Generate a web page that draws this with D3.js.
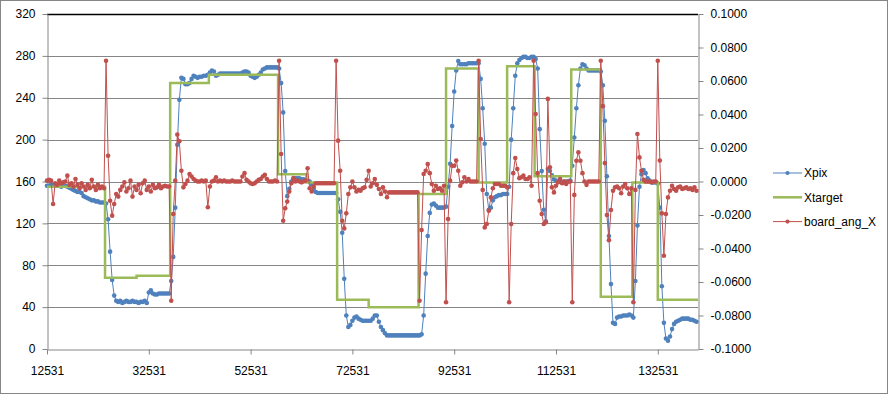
<!DOCTYPE html>
<meta charset="utf-8">
<style>
body { margin: 0; background: #fff; }
svg { display: block; font-family: "Liberation Sans", Arial, sans-serif; }
.axis text { font-size: 12px; fill: #000; }
.axis path, .axis line { stroke: #868686; }
</style>
<body>
<svg width="888" height="394"></svg>
<script src="https://d3js.org/d3.v7.min.js"></script>
<script>

// ---- data ----
var xStart = 12531, xStep = 400, xEnd = 140431;
var xTicks = [12531, 32531, 52531, 72531, 92531, 112531, 132531];
var leftTicks = [0, 40, 80, 120, 160, 200, 240, 280, 320];
var rightTicks = [-0.1, -0.08, -0.06, -0.04, -0.02, 0, 0.02, 0.04, 0.06, 0.08, 0.1];

// Xpix, one value per sample
var xpix = [
 156,156,157,156,157,156,156,155,156,156,
 155,154,153,152,151,150,150,149,146,145,
 144,143,142,142,141,141,140,140,140,139,
 124,93,66,51,46,45,46,44,45,46,
 45,45,46,45,45,44,45,45,46,44,
 54,56,53,52,52,53,53,53,53,53,
 53,65,88,135,195,238,259,258,253,253,
 254,258,261,260,259,260,260,261,261,262,
 264,266,265,261,262,263,263,263,263,263,
 263,263,263,263,263,263,264,265,265,264,
 261,260,259,260,262,264,267,268,269,269,
 269,269,269,269,268,254,226,170,146,153,
 160,162,163,163,163,162,162,161,161,160,
 157,153,150,149,149,149,149,149,149,149,
 149,149,149,143,131,111,67,32,21,23,
 27,30,31,29,28,27,27,27,27,27,
 29,32,32,26,21,18,15,13,13,13,
 13,13,13,13,13,13,13,13,13,13,
 13,13,13,13,14,32,72,108,130,138,
 139,137,135,135,135,135,136,155,177,213,
 246,266,275,272,272,272,272,273,273,273,
 273,273,273,258,230,196,148,133,135,142,
 145,146,147,147,148,148,148,155,200,230,
 261,273,276,278,279,279,278,278,279,279,
 277,268,210,170,133,122,172,170,166,162,
 161,160,160,159,160,160,160,161,175,202,
 230,252,268,272,271,268,266,266,266,266,
 266,266,265,252,218,165,108,62,25,24,
 30,31,31,32,32,32,33,32,30,65,
 118,155,167,171,168,163,161,159,159,159,
 158,135,60,25,10,8,12,19,24,26,
 27,28,29,29,29,29,28,28,27,26
];

// board_ang_X, same samples, secondary axis
var boardAng = [
 0.0005,0.001,0.0005,-0.0134,-0.001,-0.002,0.0005,-0.001,-0.0005,0,
 0.0035,-0.002,-0.001,-0.003,0.0015,-0.002,-0.004,-0.001,-0.003,-0.005,
 -0.002,-0.004,0.001,-0.003,-0.005,-0.002,-0.004,-0.003,-0.004,0.0721,
 0.0154,-0.0115,-0.0204,-0.0134,-0.0075,-0.009,-0.005,-0.003,-0.0005,-0.006,
 -0.004,0.0005,-0.009,-0.003,-0.005,-0.002,-0.007,-0.001,0.0005,-0.005,
 -0.003,-0.006,-0.002,-0.004,-0.0035,-0.002,-0.004,-0.003,-0.0025,-0.003,
 -0.003,-0.0712,-0.0194,0.0005,0.028,0.024,0.0064,-0.0035,-0.0015,0.0005,
 0.0045,0.003,0.0015,0.0005,0,0,0.0005,0,0.0005,-0.0154,
 -0.003,0,0.0005,0.0025,0,0.0005,0,0.0005,0,0,
 0,0.0005,0,0,0,0,0.003,0.005,0.001,0,
 -0.001,-0.0015,-0.001,0,0.001,0.0015,0.003,0.004,0.0015,0,
 0,0,0.0005,0,0.0721,0.0164,-0.0234,-0.016,-0.012,-0.006,
 -0.001,0.002,0,0.0005,0,-0.0005,0,0.0005,0.0079,-0.004,
 -0.006,-0.003,-0.001,-0.001,-0.001,-0.001,-0.001,-0.001,-0.001,-0.001,
 -0.001,-0.001,0.0721,0.0244,0.0064,-0.0234,-0.028,-0.019,-0.0075,-0.0035,
 0,-0.0035,-0.006,-0.005,-0.0055,-0.004,-0.0035,0.001,0.0064,-0.003,
 -0.001,0.0015,-0.002,-0.0045,-0.0075,-0.0035,-0.006,-0.0094,-0.0065,-0.0065,
 -0.0065,-0.0065,-0.0065,-0.0065,-0.0065,-0.0065,-0.0065,-0.0065,-0.0065,-0.0065,
 -0.0065,-0.0065,-0.0065,-0.0712,-0.029,0.0045,0.0064,0.0104,0.005,-0.0015,
 -0.0055,-0.0025,-0.0045,-0.004,-0.0055,-0.0025,-0.0721,-0.0224,0.0005,0.0094,
 0.0094,0.0125,0.0064,-0.0025,-0.0005,0.0025,0,0.0015,0,0,
 0,0,0.0721,0.0254,-0.005,-0.0274,-0.0254,-0.0174,-0.0095,-0.004,
 -0.0015,-0.0015,-0.0015,-0.0025,-0.0025,-0.0025,-0.0035,-0.0721,-0.0254,0.005,
 0.014,0.0075,0.002,0.0025,0.0035,0.0015,0.0015,0.0025,-0.0025,0.0721,
 0.0403,0.005,-0.0115,-0.0194,-0.0254,-0.0244,0.0493,0.0085,-0.0035,-0.0065,
 -0.0025,-0.0005,0.0015,-0.001,0,-0.0015,0,0,-0.0721,-0.008,
 0.0124,0.0174,0.0124,0.005,0,-0.002,0,0,0,0,
 0,0,0.0721,0.045,0.011,-0.02,-0.035,-0.017,-0.0055,-0.0035,
 -0.003,-0.004,-0.007,-0.003,-0.0015,-0.004,-0.0075,-0.004,-0.0721,-0.005,
 0.0284,0.0144,0.0064,0.001,0,0,0,-0.0005,0,0,
 0.0721,0.0125,-0.019,-0.0443,-0.0194,-0.0095,-0.0055,-0.0025,-0.0045,-0.0055,
 -0.0035,-0.003,-0.0045,-0.004,-0.0035,-0.0045,-0.004,-0.005,-0.0035,-0.0055
];

// Xtarget is a step signal: where it changes, and to what
var targetAt  = [12531, 23931, 30131, 36731, 44331, 57931, 63531, 69531, 75731, 85531,
                 90931, 97331, 102931, 108331, 115531, 121331, 127531, 132531, 140431];
var targetVal = [155, 68, 70, 254, 262, 167, 159, 47, 40, 148,
                 268, 159, 270, 165, 267, 50, 159, 47, 47];

var seriesNames = ["Xpix", "Xtarget", "board_ang_X"];
var colors = ["#4F81BD", "#9BBB59", "#C0504D"];

// ---- chart ----
var svg = d3.select("svg");
var W = +svg.attr("width"), H = +svg.attr("height");

svg.append("rect").attr("x", 0.5).attr("y", 0.5).attr("width", W - 1).attr("height", H - 1)
   .attr("fill", "#fff").attr("stroke", "#868686");

var plotL = 47, plotR = 698, plotT = 14, plotB = 349;

var x = d3.scaleLinear().domain([xStart, xEnd]).range([plotL, plotR]);
var yL = d3.scaleLinear().domain([0, 320]).range([plotB, plotT]);
var yR = d3.scaleLinear().domain([-0.1, 0.1]).range([plotB, plotT]);

// gridlines
svg.append("g").selectAll("line")
  .data(leftTicks.filter(function(d) { return d > 0; }))
  .enter().append("line")
    .attr("x1", plotL).attr("x2", plotR)
    .attr("y1", function(d) { return Math.round(yL(d)) + 0.5; })
    .attr("y2", function(d) { return Math.round(yL(d)) + 0.5; })
    .attr("stroke", function(d) { return d == 320 ? "#000" : "#868686"; })
    .attr("stroke-width", function(d) { return d == 320 ? 1.5 : 1; });

svg.append("g").attr("class", "axis")
  .attr("transform", "translate(" + (plotL + 0.5) + ",0)")
  .call(d3.axisLeft(yL).tickValues(leftTicks).tickSize(5).tickSizeOuter(0).tickPadding(7));

svg.append("g").attr("class", "axis")
  .attr("transform", "translate(" + (plotR + 0.5) + ",0)")
  .call(d3.axisRight(yR).tickValues(rightTicks).tickSize(5).tickSizeOuter(0).tickPadding(7)
        .tickFormat(function(d) { return d.toFixed(4); }));

svg.append("g").attr("class", "axis")
  .attr("transform", "translate(0," + (plotB + 0.5) + ")")
  .call(d3.axisBottom(x).tickValues(xTicks).tickSize(5).tickSizeOuter(0).tickPadding(12)
        .tickFormat(d3.format("d")));

svg.selectAll(".axis .domain").attr("stroke", "#868686");

// series
var pixData = xpix.map(function(v, i) { return { x: xStart + i * xStep, y: v }; });
var angData = boardAng.map(function(v, i) { return { x: xStart + i * xStep, y: v }; });
var tgtData = targetAt.map(function(t, i) { return { x: t, y: targetVal[i] }; });

var linePix = d3.line().x(function(d) { return x(d.x); }).y(function(d) { return yL(d.y); });
var lineTgt = d3.line().curve(d3.curveStepAfter).x(function(d) { return x(d.x); }).y(function(d) { return yL(d.y); });
var lineAng = d3.line().x(function(d) { return x(d.x); }).y(function(d) { return yR(d.y); });

svg.append("path").datum(pixData).attr("d", linePix)
   .attr("fill", "none").attr("stroke", colors[0]).attr("stroke-width", 1);
svg.append("g").selectAll("circle").data(pixData).enter().append("circle")
   .attr("cx", function(d) { return x(d.x); }).attr("cy", function(d) { return yL(d.y); })
   .attr("r", 2.3).attr("fill", colors[0]);

svg.append("path").datum(tgtData).attr("d", lineTgt)
   .attr("fill", "none").attr("stroke", colors[1]).attr("stroke-width", 2.5);

svg.append("path").datum(angData).attr("d", lineAng)
   .attr("fill", "none").attr("stroke", colors[2]).attr("stroke-width", 1);
svg.append("g").selectAll("circle").data(angData).enter().append("circle")
   .attr("cx", function(d) { return x(d.x); }).attr("cy", function(d) { return yR(d.y); })
   .attr("r", 2.3).attr("fill", colors[2]);

// legend
var legend = svg.append("g").selectAll("g").data(seriesNames).enter().append("g")
  .attr("transform", function(d, i) { return "translate(773," + (173 + i * 24.3) + ")"; });

legend.append("line").attr("x1", 0).attr("x2", 29).attr("y1", 0).attr("y2", 0)
  .attr("stroke", function(d, i) { return colors[i]; })
  .attr("stroke-width", function(d, i) { return i == 1 ? 2.5 : 1; });
legend.filter(function(d, i) { return i != 1; }).append("circle")
  .attr("cx", 14.5).attr("cy", 0).attr("r", 2.1)
  .attr("fill", function(d) { return colors[seriesNames.indexOf(d)]; });
legend.append("text").attr("x", 31).attr("y", 0).attr("dy", "0.35em")
  .attr("font-size", "12px").text(function(d) { return d; });

</script>
</body>
